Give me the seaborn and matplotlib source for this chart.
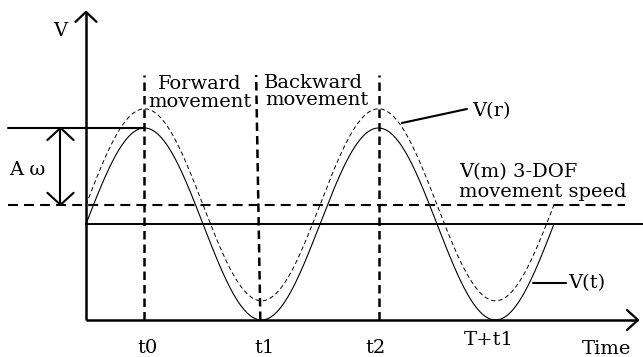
import numpy as np
import pandas as pd
import matplotlib
matplotlib.use("Agg")
import matplotlib.pyplot as plt
import seaborn as sns

# ---- schematic parameters (time in periods, speed in amplitude units) ----
period = 1.0
amplitude = 1.0
offset_t = 1.0          # mean level of V(t)
offset_r = 1.2          # V(m) level, also the mean of V(r)
t_end = 2.0
tick_positions = [0.25, 0.75, 1.25, 1.75]
tick_labels = ["t0", "t1", "t2", "T+t1"]
phase_lines = [0.25, 0.75, 1.25]

sns.set_theme(style="white")
plt.rcParams["font.family"] = ["DejaVu Serif"]
plt.rcParams["text.color"] = "black"

t = np.linspace(0, t_end, 600)
df = pd.DataFrame({
    "time": np.concatenate([t, t]),
    "speed": np.concatenate([offset_t + amplitude * np.sin(2 * np.pi * t / period),
                             offset_r + amplitude * np.sin(2 * np.pi * t / period)]),
    "curve": ["V(t)"] * len(t) + ["V(r)"] * len(t),
})

fig = plt.figure(figsize=(6.43, 3.57), dpi=100)
ax = fig.add_axes([0, 0, 1, 1])
ax.set_xlim(-0.3675, 2.3803)
ax.set_ylim(-0.3854, 3.3333)
ax.axis("off")

sns.lineplot(data=df[df.curve == "V(t)"], x="time", y="speed", ax=ax,
             color="black", lw=0.8, legend=False)
sns.lineplot(data=df[df.curve == "V(r)"], x="time", y="speed", ax=ax,
             color="black", lw=0.7, ls=(0, (4.5, 3.0)), legend=False)

K = "black"
# axes with open arrowheads
ax.plot([0, 0], [0, 3.21], color=K, lw=1.8, solid_capstyle="butt")
ax.plot([0, 2.359], [0, 0], color=K, lw=1.8, solid_capstyle="butt")
ax.plot([-0.045, 0, 0.045], [3.105, 3.21, 3.105], color=K, lw=1.6)
ax.plot([2.312, 2.359, 2.312], [0.104, 0, -0.104], color=K, lw=1.6)

# reference levels
ax.plot([0, 2.3803], [offset_t, offset_t], color=K, lw=1.4)
ax.plot([-0.333, 2.303], [offset_r, offset_r], color=K, lw=1.5, ls=(0, (4.8, 2.9)))
ax.plot([-0.333, 0.25], [offset_t + amplitude] * 2, color=K, lw=1.5)

# amplitude double arrow
xa = -0.109
ax.plot([xa, xa], [offset_r, offset_t + amplitude], color=K, lw=1.5)
ax.plot([xa - 0.056, xa, xa + 0.056], [1.875, 2.0, 1.875], color=K, lw=1.5)
ax.plot([xa - 0.056, xa, xa + 0.056], [1.325, 1.2, 1.325], color=K, lw=1.5)

# phase boundaries
top = 2.552
ax.plot([phase_lines[0]] * 2, [0, top], color=K, lw=1.8, ls=(0, (3.4, 2.0)))
ax.plot([0.745, 0.727], [0, top], color=K, lw=1.8, ls=(0, (3.4, 2.0)))
ax.plot([phase_lines[2]] * 2, [0, top], color=K, lw=1.8, ls=(0, (3.4, 2.0)))

# leader lines
ax.plot([1.350, 1.628], [2.052, 2.198], color=K, lw=1.5)
ax.plot([1.910, 2.051], [0.385, 0.385], color=K, lw=1.5)

fs = 14
ax.text(-0.111, 3.01, "V", fontsize=fs, ha="center", va="center")
ax.text(-0.252, 1.56, "A ω", fontsize=fs, ha="center", va="center")
ax.text(0.487, 2.406, "Forward", fontsize=fs, ha="center", va="baseline")
ax.text(0.487, 2.219, "movement", fontsize=fs, ha="center", va="baseline")
ax.text(0.974, 2.417, "Backward", fontsize=fs, ha="center", va="baseline")
ax.text(0.987, 2.240, "movement", fontsize=fs, ha="center", va="baseline")
ax.text(1.650, 2.177, "V(r)", fontsize=fs, ha="left", va="center")
ax.text(1.594, 1.49, "V(m) 3-DOF", fontsize=fs, ha="left", va="baseline")
ax.text(1.594, 1.281, "movement speed", fontsize=fs, ha="left", va="baseline")
ax.text(2.060, 0.385, "V(t)", fontsize=fs, ha="left", va="center")

label_y = [-0.29, -0.29, -0.29, -0.21]
for x, lab, y in zip([0.261, 0.761, 1.239, 1.722], tick_labels, label_y):
    ax.text(x, y, lab, fontsize=fs, ha="center", va="center")
ax.text(2.222, -0.30, "Time", fontsize=fs, ha="center", va="center")

fig.savefig("out.png", dpi=100, facecolor="white")
